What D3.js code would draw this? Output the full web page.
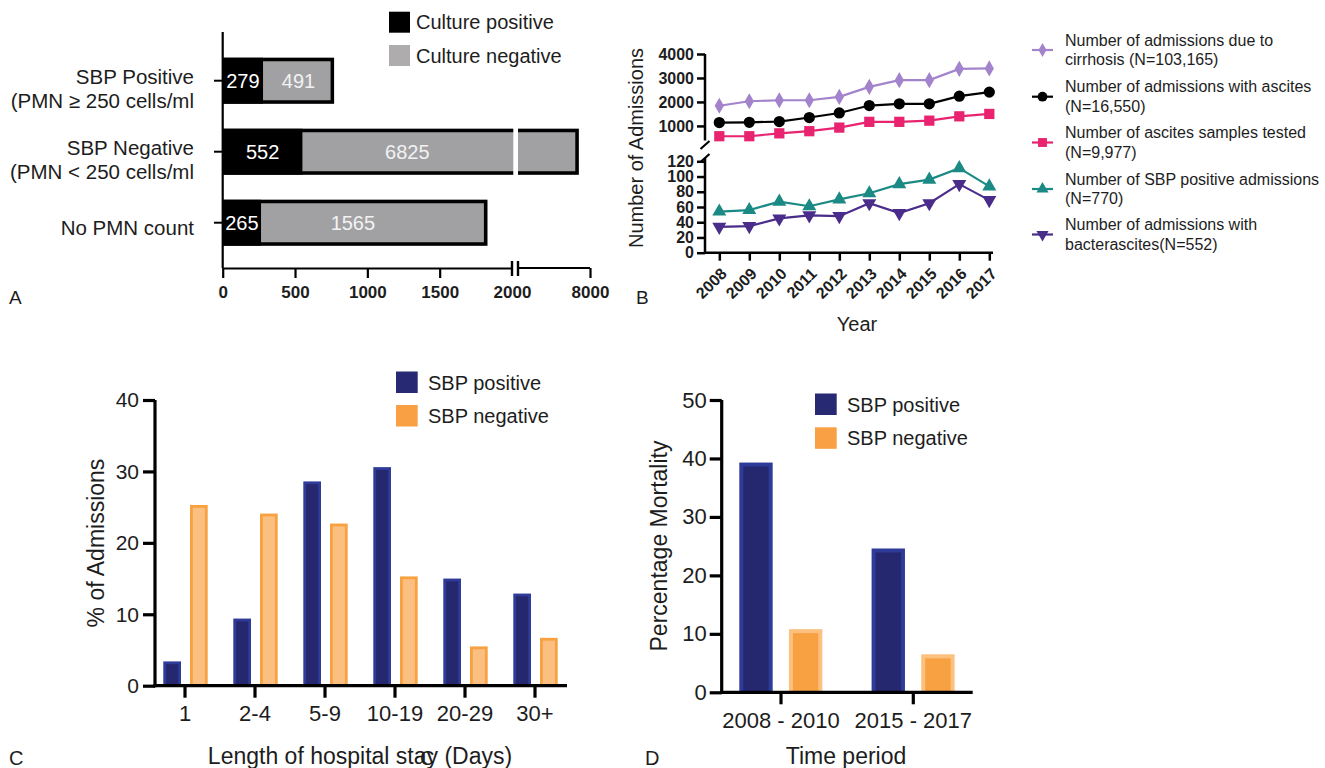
<!DOCTYPE html>
<html><head><meta charset="utf-8">
<script src="https://cdn.jsdelivr.net/npm/d3@7"></script>
<style>
body{margin:0;background:#fff;}
svg{display:block;font-family:"Liberation Sans",Arial,sans-serif;}
</style></head>
<body><svg id="c" width="1325" height="768"></svg>
<script>
// ---------- DATA ----------
// Panel A
const catsA = ["SBP Positive", "SBP Negative", "No PMN count"];
const catLinesA = [["SBP Positive","(PMN ≥ 250 cells/ml"],["SBP Negative","(PMN < 250 cells/ml"],["No PMN count"]];
const culturePositive = [279, 552, 265];
const cultureNegative = [491, 6825, 1565];
const negLabelAt = [524, 1276, 900];
const ticksA1 = [0, 500, 1000, 1500, 2000];
const ticksA2 = [8000];
// Panel B
const years = [2008,2009,2010,2011,2012,2013,2014,2015,2016,2017];
const cirrhosis = [1840,2030,2070,2070,2210,2630,2910,2910,3380,3400];
const ascites   = [1140,1150,1180,1350,1540,1850,1920,1920,2240,2410];
const samples   = [570,570,690,780,930,1170,1170,1220,1400,1500];
const sbpPos    = [54,56,67,61,70,78,90,96,111,87];
const bacter    = [34,35,45,49,48,65,52,65,90,69];
const ticksBUpper = [1000,2000,3000,4000];
const ticksBLower = [0,20,40,60,80,100,120];
const legendB = [
  ["Number of admissions due to","cirrhosis (N=103,165)"],
  ["Number of  admissions with ascites","(N=16,550)"],
  ["Number of ascites samples tested","(N=9,977)"],
  ["Number of SBP positive admissions","(N=770)"],
  ["Number of admissions with","bacterascites(N=552)"]
];
// Panel C
const stayCats = ["1","2-4","5-9","10-19","20-29","30+"];
const staySbpPos = [3.4,9.4,28.6,30.6,15.0,12.9];
const staySbpNeg = [25.3,24.1,22.7,15.3,5.5,6.7];
const ticksC = [0,10,20,30,40];
// Panel D
const periods = ["2008 - 2010","2015 - 2017"];
const mortSbpPos = [39.3,24.6];
const mortSbpNeg = [10.8,6.5];
const ticksD = [0,10,20,30,40,50];
const seriesNames = ["SBP positive","SBP negative"];

// ---------- DRAW ----------
const svg = d3.select("#c");
const TXT = "#1d1d1d";
const FONT = "\"Liberation Sans\",Arial,sans-serif";
const fmt = d3.format("d");

// ===== Panel A =====
(function(){
  const g = svg.append("g");
  const xa = d3.scaleLinear().domain([0,2000]).range([222.7,512]);
  const xb = d3.scaleLinear().domain([4000,8000]).range([518,590]);
  const X = v => v <= 2000 ? xa(v) : xb(v);
  const y = d3.scaleBand().domain(catsA).range([45.2,258.2]).paddingInner(0.352).paddingOuter(0.176);
  const axisY = 268;
  const gray = "#a1a1a4";
  catsA.forEach((c,i)=>{
    const y0 = y(c), h = y.bandwidth();
    const p = culturePositive[i], tot = p + cultureNegative[i];
    g.append("rect").attr("x",X(p)).attr("y",y0).attr("width",X(tot)-X(p)).attr("height",h).attr("fill",gray);
    g.append("rect").attr("x",X(0)).attr("y",y0).attr("width",X(p)-X(0)).attr("height",h).attr("fill","#000");
    const sw = 3.5;
    g.append("path").attr("d",`M${X(0)},${y0+sw/2}H${X(tot)-sw/2}V${y0+h-sw/2}H${X(0)}`)
      .attr("fill","none").attr("stroke","#000").attr("stroke-width",sw);
    if (tot > 2000) {
      g.append("rect").attr("x",xa(2000)+1.3).attr("y",y0-2).attr("width",xb(4000)-xa(2000)-1.3).attr("height",h+4).attr("fill","#fff");
    }
    g.append("text").attr("x",(X(0)+X(p))/2).attr("y",y0+h/2).attr("dy","0.36em").attr("text-anchor","middle")
      .attr("fill","#fff").attr("font-size",20).text(p);
    g.append("text").attr("x",X(negLabelAt[i])).attr("y",y0+h/2).attr("dy","0.36em").attr("text-anchor","middle")
      .attr("fill","#f2f2f2").attr("font-size",20).text(cultureNegative[i]);
    const cy = y0 + h/2;
    g.append("line").attr("x1",214).attr("x2",222.7).attr("y1",cy).attr("y2",cy).attr("stroke","#000").attr("stroke-width",2);
    const lines = catLinesA[i];
    lines.forEach((t,j)=>{
      const off = lines.length === 1 ? 12 : (j === 0 ? 3 : 27);
      g.append("text").attr("x",194).attr("y",cy+off).attr("text-anchor","end").attr("fill",TXT).attr("font-size",20.5).text(t);
    });
  });
  g.append("line").attr("x1",222.7).attr("x2",222.7).attr("y1",32).attr("y2",axisY).attr("stroke","#000").attr("stroke-width",2.2);
  const ax1 = g.append("g").attr("transform",`translate(0,${axisY})`)
    .call(d3.axisBottom(xa).tickValues(ticksA1).tickFormat(fmt).tickSize(10).tickSizeOuter(0).tickPadding(8));
  const ax2 = g.append("g").attr("transform",`translate(0,${axisY})`)
    .call(d3.axisBottom(xb).tickValues(ticksA2).tickFormat(fmt).tickSize(10).tickSizeOuter(0).tickPadding(8));
  [ax1,ax2].forEach(a=>{
    a.select(".domain").attr("stroke-width",2.2);
    a.selectAll(".tick line").attr("stroke-width",2.2);
    a.selectAll(".tick text").attr("font-size",17).attr("font-weight","bold").attr("font-family",FONT).attr("fill",TXT);
  });
  ax1.selectAll(".tick").filter(d=>d===2000).select("line").remove();
  ax2.select(".domain").attr("d",`M${xb(4000)},0H${xb(8000)}`);
  [xa(2000), xb(4000)].forEach(bx=>{
    g.append("line").attr("x1",bx).attr("x2",bx).attr("y1",axisY-7).attr("y2",axisY+8).attr("stroke","#000").attr("stroke-width",2.4);
  });
  const leg = [["Culture positive","#000"],["Culture negative","#aeacad"]];
  leg.forEach((l,i)=>{
    g.append("rect").attr("x",389).attr("y",11.7+i*33.3).attr("width",21).attr("height",21).attr("fill",l[1]);
    g.append("text").attr("x",416).attr("y",22.2+i*33.3).attr("dy","0.36em").attr("fill",TXT).attr("font-size",20).text(l[0]);
  });
  g.append("text").attr("x",9).attr("y",304).attr("fill",TXT).attr("font-size",19).text("A");
})();

// ===== Panel B =====
(function(){
  const g = svg.append("g");
  const x = d3.scalePoint().domain(years).range([719.3,989.3]);
  const yU = d3.scaleLinear().domain([350,4000]).range([141.5,54]);
  const yL = d3.scaleLinear().domain([0,120]).range([252.7,161.3]);
  const ax = 705;
  const aU = g.append("g").attr("transform",`translate(${ax},0)`).call(d3.axisLeft(yU).tickValues(ticksBUpper).tickFormat(fmt).tickSize(8).tickPadding(3).tickSizeOuter(0));
  const aL = g.append("g").attr("transform",`translate(${ax},0)`).call(d3.axisLeft(yL).tickValues(ticksBLower).tickFormat(fmt).tickSize(8).tickPadding(3).tickSizeOuter(0));
  aU.select(".domain").attr("d",`M0,${yU(4000)}V140.5`);
  aL.select(".domain").attr("d",`M0,158V${yL(0)}`);
  [aU,aL].forEach(a=>{
    a.select(".domain").attr("stroke-width",2.5);
    a.selectAll(".tick line").attr("stroke-width",2.5);
    a.selectAll(".tick text").attr("font-size",16).attr("font-weight","bold").attr("font-family",FONT).attr("fill",TXT);
  });
  [145,158].forEach(cy=>{
    g.append("line").attr("x1",ax-4.5).attr("y1",cy+4).attr("x2",ax+4.5).attr("y2",cy-4).attr("stroke","#000").attr("stroke-width",2.2);
  });
  const axX = g.append("g").attr("transform",`translate(0,${yL(0)})`).call(d3.axisBottom(x).tickFormat(fmt).tickSize(8).tickSizeOuter(0).tickPadding(3));
  axX.select(".domain").attr("d",`M${ax},0H993`).attr("stroke-width",2.5);
  axX.selectAll(".tick line").attr("stroke-width",2.5);
  axX.selectAll(".tick text").attr("font-size",16).attr("font-weight","bold").attr("font-family",FONT).attr("fill",TXT)
    .attr("text-anchor","end").attr("x",0).attr("y",0).attr("dy","0.35em").attr("transform","translate(4,18) rotate(-45)");
  const series = [
    {v:cirrhosis, s:yU, col:"#a384cc", sym:d3.symbolDiamond, size:75, rot:0},
    {v:ascites, s:yU, col:"#000", sym:d3.symbolCircle, size:100, rot:0},
    {v:samples, s:yU, col:"#e8236f", sym:d3.symbolSquare, size:105, rot:0},
    {v:sbpPos, s:yL, col:"#1c8a84", sym:d3.symbolTriangle, size:85, rot:0},
    {v:bacter, s:yL, col:"#4a2c8a", sym:d3.symbolTriangle, size:85, rot:180}
  ];
  series.forEach(se=>{
    const line = d3.line().x((d,i)=>x(years[i])).y(d=>se.s(d));
    g.append("path").attr("d",line(se.v)).attr("fill","none").attr("stroke",se.col).attr("stroke-width",2.2);
    g.selectAll(null).data(se.v).enter().append("path")
      .attr("d",d3.symbol().type(se.sym).size(se.size))
      .attr("transform",(d,i)=>`translate(${x(years[i])},${se.s(d)}) rotate(${se.rot})`)
      .attr("fill",se.col);
  });
  g.append("text").attr("transform","translate(643,148) rotate(-90)").attr("text-anchor","middle").attr("fill",TXT).attr("font-size",20).text("Number of Admissions");
  g.append("text").attr("x",857).attr("y",331).attr("text-anchor","middle").attr("fill",TXT).attr("font-size",20).text("Year");
  g.append("text").attr("x",636).attr("y",304).attr("fill",TXT).attr("font-size",19).text("B");
  const ly = [50,96.7,142.5,189,234.5];
  series.forEach((se,i)=>{
    const cy = ly[i];
    g.append("line").attr("x1",1032).attr("x2",1053).attr("y1",cy).attr("y2",cy).attr("stroke",se.col).attr("stroke-width",2.2);
    g.append("path").attr("d",d3.symbol().type(se.sym).size(se.size*0.75)).attr("transform",`translate(1042.5,${cy}) rotate(${se.rot})`).attr("fill",se.col);
    legendB[i].forEach((t,j)=>{
      g.append("text").attr("x",1065).attr("y",cy-10+j*19.5).attr("dy","0.36em").attr("fill",TXT).attr("font-size",16).text(t);
    });
  });
})();

function barGroup(g, x0, xi, y, cats, vals, styles){
  vals.forEach((arr,si)=>{
    arr.forEach((v,ci)=>{
      const st = styles[si];
      const bx = x0(cats[ci]) + xi(seriesNames[si]);
      const bw = xi.bandwidth();
      const top = y(v), bot = y(0);
      g.append("rect").attr("x",bx).attr("y",top).attr("width",bw).attr("height",bot-top).attr("fill",st.border);
      const b = st.bw;
      g.append("rect").attr("x",bx+b).attr("y",top+b).attr("width",Math.max(0,bw-2*b)).attr("height",Math.max(0,bot-top-b)).attr("fill",st.fill);
    });
  });
}
function legend2(g, sx, sy, tx, gap, fs){
  const cols = ["#272a72","#f9a044"];
  seriesNames.forEach((n,i)=>{
    g.append("rect").attr("x",sx).attr("y",sy+i*gap).attr("width",21.7).attr("height",21.5).attr("fill",cols[i]);
    g.append("text").attr("x",tx).attr("y",sy+10.8+i*gap).attr("dy","0.36em").attr("fill",TXT).attr("font-size",fs).text(n);
  });
}
function styleAxis(a, fs){
  a.select(".domain").attr("stroke-width",3.2);
  a.selectAll(".tick line").attr("stroke-width",3.2);
  a.selectAll(".tick text").attr("font-size",fs).attr("font-family",FONT).attr("fill",TXT);
}

// ===== Panel C =====
(function(){
  const g = svg.append("g");
  const x0 = d3.scaleBand().domain(stayCats).range([150,570]);
  const xi = d3.scaleBand().domain(seriesNames).range([13.3,57.7]).paddingInner(0.337);
  const y = d3.scaleLinear().domain([0,40]).range([685.7,400]);
  barGroup(g, x0, xi, y, stayCats, [staySbpPos, staySbpNeg], [
    {border:"#2e3b98", fill:"#26286f", bw:2.8},
    {border:"#f7a140", fill:"#fcbf82", bw:2.8}
  ]);
  const ay = g.append("g").attr("transform","translate(155,0)").call(d3.axisLeft(y).tickValues(ticksC).tickSize(12).tickPadding(4).tickSizeOuter(0));
  ay.select(".domain").attr("d",`M0,${y(40)}V${y(0)+1.5}`);
  styleAxis(ay, 21);
  const axx = g.append("g").attr("transform",`translate(0,${y(0)})`).call(d3.axisBottom(x0).tickSize(12).tickPadding(8).tickSizeOuter(0));
  axx.select(".domain").attr("d","M153.4,0H567");
  styleAxis(axx, 22);
  legend2(g, 396, 371.5, 428, 33.5, 20);
  g.append("text").attr("transform","translate(104,543) rotate(-90)").attr("text-anchor","middle").attr("fill",TXT).attr("font-size",23).text("% of Admissions");
  g.append("text").attr("x",360).attr("y",764).attr("text-anchor","middle").attr("fill",TXT).attr("font-size",23).text("Length of hospital stay (Days)");
  g.append("text").attr("x",9).attr("y",765).attr("fill",TXT).attr("font-size",20).text("C");
  g.append("text").attr("x",420).attr("y",765).attr("fill",TXT).attr("font-size",20).text("C");
})();

// ===== Panel D =====
(function(){
  const g = svg.append("g");
  const x0 = d3.scaleBand().domain(periods).range([714.85,979.45]);
  const xi = d3.scaleBand().domain(seriesNames).range([24.45,107.45]).paddingInner(0.328);
  const y = d3.scaleLinear().domain([0,50]).range([692.3,400]);
  barGroup(g, x0, xi, y, periods, [mortSbpPos, mortSbpNeg], [
    {border:"#2e3b98", fill:"#26286f", bw:4},
    {border:"#fcc07f", fill:"#f7a142", bw:4}
  ]);
  const ay = g.append("g").attr("transform","translate(721.7,0)").call(d3.axisLeft(y).tickValues(ticksD).tickSize(12).tickPadding(3).tickSizeOuter(0));
  ay.select(".domain").attr("d",`M0,${y(50)}V${y(0)+1.5}`);
  styleAxis(ay, 22);
  const axx = g.append("g").attr("transform",`translate(0,${y(0)})`).call(d3.axisBottom(x0).tickSize(12).tickPadding(8).tickSizeOuter(0));
  axx.select(".domain").attr("d","M720,0H972.7");
  styleAxis(axx, 22);
  legend2(g, 815, 393.5, 847, 33.8, 20);
  g.append("text").attr("transform","translate(667,546) rotate(-90)").attr("text-anchor","middle").attr("fill",TXT).attr("font-size",23).text("Percentage Mortality");
  g.append("text").attr("x",846).attr("y",764).attr("text-anchor","middle").attr("fill",TXT).attr("font-size",23).text("Time period");
  g.append("text").attr("x",645).attr("y",765).attr("fill",TXT).attr("font-size",20).text("D");
})();
</script></body></html>
